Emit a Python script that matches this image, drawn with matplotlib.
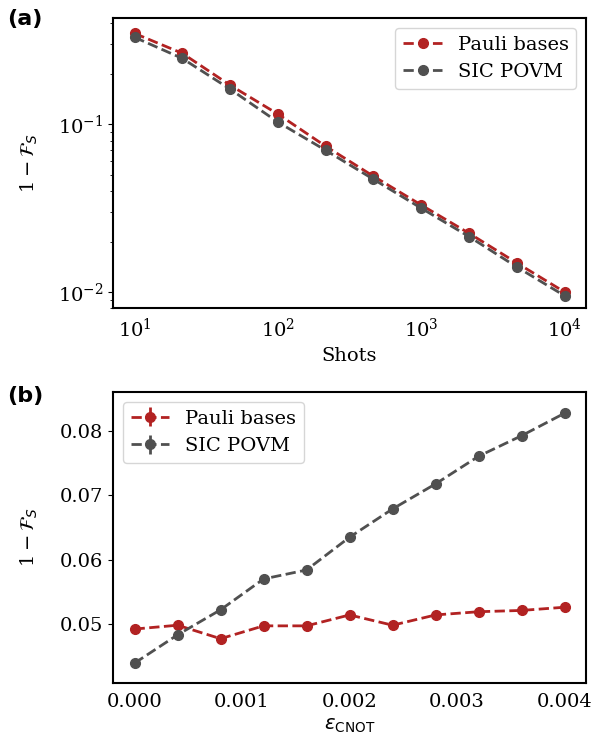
import matplotlib
matplotlib.use('Agg')
import matplotlib.pyplot as plt
import numpy as np

plt.rcParams['font.family'] = 'DejaVu Serif'
plt.rcParams['mathtext.fontset'] = 'dejavusans'
plt.rcParams['font.size'] = 14

shots = [10, 21.5, 46.4, 100, 215, 464, 1000, 2154, 4642, 10000]
pauli_shots = [0.348, 0.265, 0.171, 0.115, 0.074, 0.049, 0.033, 0.0224, 0.0149, 0.0100]
sic_shots = [0.330, 0.247, 0.162, 0.103, 0.070, 0.047, 0.0316, 0.0214, 0.0141, 0.0095]

eps = [0.0, 0.0004, 0.0008, 0.0012, 0.0016, 0.002, 0.0024, 0.0028, 0.0032, 0.0036, 0.004]
pauli_eps = [0.0492, 0.0498, 0.0477, 0.0497, 0.0497, 0.0514, 0.0498, 0.0514, 0.0519, 0.0521, 0.0526]
sic_eps = [0.0439, 0.0483, 0.0522, 0.0570, 0.0584, 0.0635, 0.0679, 0.0718, 0.0761, 0.0793, 0.0828]
pauli_err = [0.0003] * 11
sic_err = [0.0004] * 11

red = '#b22222'
gray = '#505050'
ylab = r'$\mathdefault{1}-\mathcal{F}_S$'

fig = plt.figure(figsize=(5.92, 7.5), dpi=100)
ax1 = fig.add_axes([0.191, 0.589, 0.799, 0.387])
ax2 = fig.add_axes([0.191, 0.0893, 0.799, 0.388])

ax1.plot(shots, pauli_shots, '--o', color=red, lw=2, ms=7, label='Pauli bases')
ax1.plot(shots, sic_shots, '--o', color=gray, lw=2, ms=7, label='SIC POVM')
ax1.set_xscale('log')
ax1.set_yscale('log')
ax1.set_ylim(0.0080, 0.43)
ax1.set_xlabel('Shots')
ax1.set_ylabel(ylab)
ax1.legend(loc='upper right')

ax2.errorbar(eps, pauli_eps, yerr=pauli_err, fmt='--o', color=red, lw=2, ms=7, label='Pauli bases')
ax2.errorbar(eps, sic_eps, yerr=sic_err, fmt='--o', color=gray, lw=2, ms=7, label='SIC POVM')
ax2.set_ylim(0.0408, 0.0861)
ax2.set_xticks([0, 0.001, 0.002, 0.003, 0.004])
ax2.set_yticks([0.05, 0.06, 0.07, 0.08])
ax2.set_xlabel(r'$\epsilon_{\mathrm{CNOT}}$')
ax2.set_ylabel(ylab)
ax2.legend(loc='upper left')

for ax in (ax1, ax2):
    for s in ax.spines.values():
        s.set_linewidth(1.5)
    ax.tick_params(axis='x', which='both', length=0, pad=7)
    ax.yaxis.set_label_coords(-0.155, 0.5)

fig.text(0.012, 0.966, '(a)', family='DejaVu Sans', weight='bold', fontsize=16)
fig.text(0.012, 0.464, '(b)', family='DejaVu Sans', weight='bold', fontsize=16)

fig.savefig('out.png', dpi=100)
